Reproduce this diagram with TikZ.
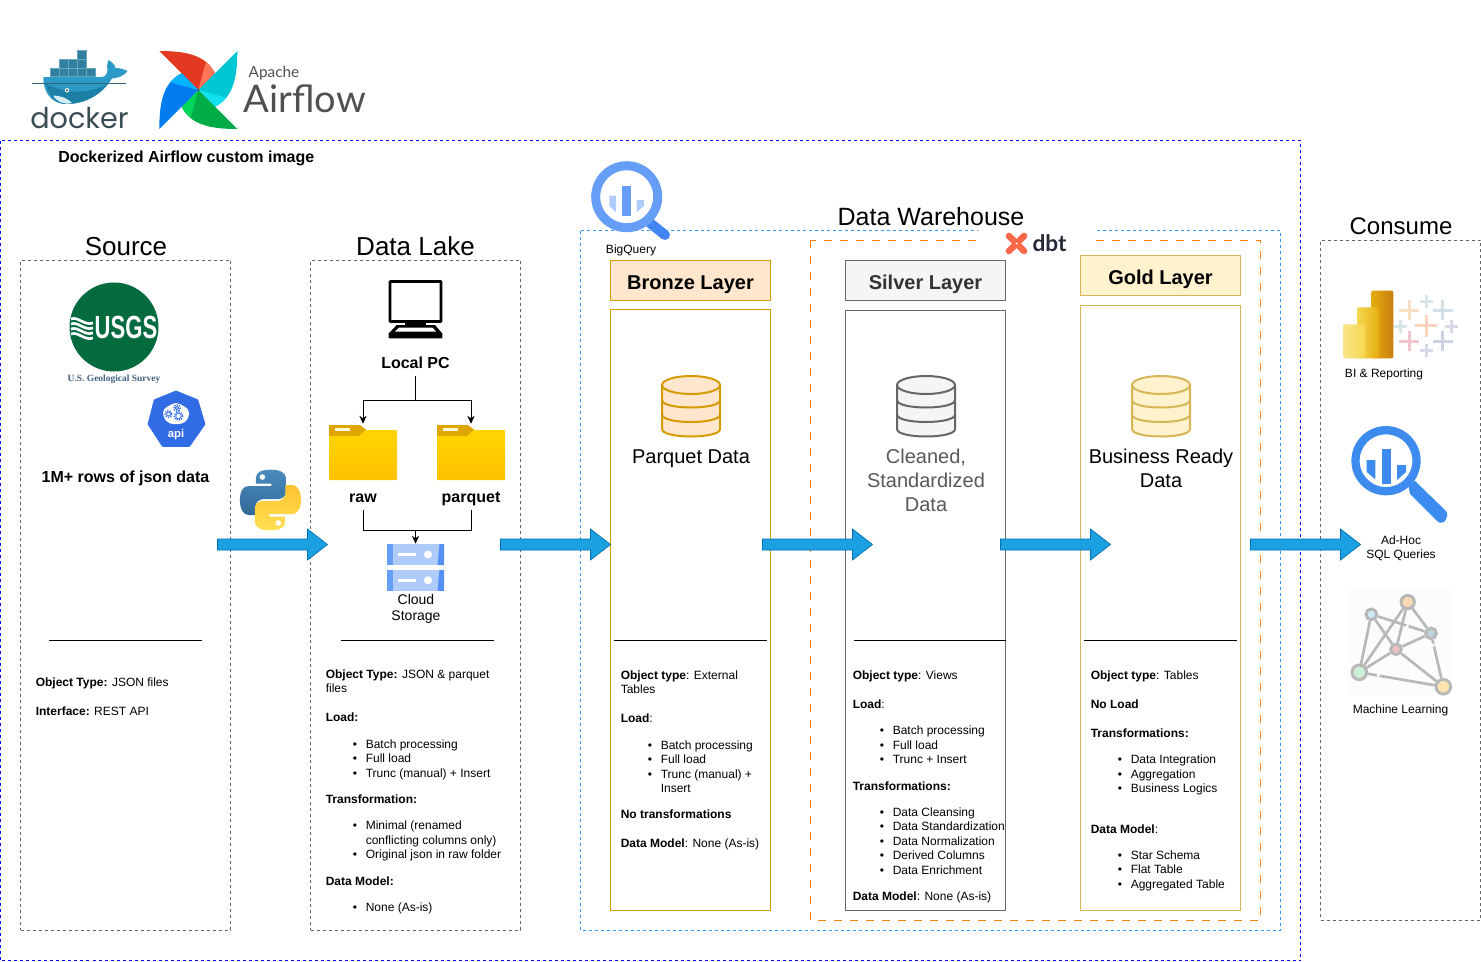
\documentclass[tikz,border=0pt]{standalone}
\usepackage{fontspec}
\setmainfont{Liberation Sans}
\newfontfamily\dockerfont{Poppins}
\newfontfamily\flowfont{Lato}
\newfontfamily\usgsfont{Liberation Serif}
\usetikzlibrary{arrows.meta,calc}

\definecolor{bluedash}{HTML}{0000FF}
\definecolor{skydash}{HTML}{3399FF}
\definecolor{orangedash}{HTML}{FF8000}
\definecolor{arrowfill}{HTML}{1BA1E2}
\definecolor{arrowedge}{HTML}{006EAF}
\definecolor{bronzefill}{HTML}{FFE6CC}
\definecolor{bronzeline}{HTML}{D79B00}
\definecolor{silverfill}{HTML}{F5F5F5}
\definecolor{silverline}{HTML}{666666}
\definecolor{goldfill}{HTML}{FFF2CC}
\definecolor{goldline}{HTML}{D6B656}
\definecolor{gbqlight}{HTML}{AECBFA}
\definecolor{gbqmid}{HTML}{669DF6}
\definecolor{gbqdark}{HTML}{4285F4}
\definecolor{gbqsolid}{HTML}{3D8BEF}
\definecolor{mlgray}{HTML}{B8B8B8}
\definecolor{whaleblue}{HTML}{2B9AC6}
\definecolor{whaledark}{HTML}{1B7FA6}
\definecolor{boxteal}{HTML}{2F7F9E}
\definecolor{dockerink}{HTML}{394D54}
\definecolor{flowink}{HTML}{51504F}
\definecolor{k8sblue}{HTML}{326CE5}
\definecolor{usgsgreen}{HTML}{046B3E}
\definecolor{usgsslate}{HTML}{3F5F80}
\definecolor{dbtorange}{HTML}{FF694A}
\definecolor{dbtink}{HTML}{262A38}
\definecolor{foldertop}{HTML}{FFD500}
\definecolor{folderbot}{HTML}{FFC200}
\definecolor{foldertab}{HTML}{DFA600}
\definecolor{pbione}{HTML}{F9E589}
\definecolor{pbitwo}{HTML}{F6D751}
\definecolor{pbithree}{HTML}{E6AD10}
\definecolor{pbifour}{HTML}{C87E0E}

\newcommand{\lgap}{\\[9pt]}
\newcommand{\pgap}{\\[10.95pt]}
\newcommand{\bul}{\hspace*{30pt}\llap{\textbullet\hspace{6.6pt}}}
\newcommand{\cnt}{\hspace*{30pt}}

\tikzset{
  panelbox/.style={draw=silverline, line width=.75pt, dash pattern=on 2.25pt off 2.25pt, inner sep=0},
  layerbox/.style={line width=.75pt, minimum width=120pt, inner sep=0},
  headtext/.style={inner sep=0, font=\fontsize{19.5}{21.6}\selectfont},
  layertitle/.style={text height=16pt, text depth=3pt, font=\bfseries\fontsize{15}{18}\selectfont},
  labeltext/.style={inner sep=0, align=center, font=\fontsize{15}{18}\selectfont},
  boldtext/.style={inner sep=0, text height=11.5pt, text depth=3pt, font=\bfseries\fontsize{12}{14.4}\selectfont},
  smalltext/.style={inner sep=0, align=center, font=\fontsize{9}{10.8}\selectfont},
  paneltext/.style={inner sep=0, anchor=north west, align=left, font=\fontsize{9}{10.8}\selectfont},
  sepline/.style={line width=.75pt},
  flowline/.style={line width=.75pt},
  flowarrow/.style={line width=.75pt, -{Stealth[length=6pt,width=5.5pt]}},
  blockarrow/.style={draw=arrowedge, fill=arrowfill, line width=.5pt,
    to path={($(\tikztostart)+(0,-5.5)$) -- ($(\tikztotarget)+(-20,-5.5)$) -- ($(\tikztotarget)+(-20,-15.5)$)
      -- (\tikztotarget) -- ($(\tikztotarget)+(-20,15.5)$) -- ($(\tikztotarget)+(-20,5.5)$)
      -- ($(\tikztostart)+(0,5.5)$) -- cycle}},
  mlnode/.style={circle, draw=mlgray, line width=2.2pt, inner sep=0},
  pics/dbstack/.style 2 args={code={
    \fill[#1] (-29,-21) -- (-29,23) .. controls (-29,33) and (29,33) .. (29,23) -- (29,-21) -- cycle;
    \draw[#2, line width=1.5pt, fill=#1] (0,-21) ellipse [x radius=29, y radius=9];
    \draw[#2, line width=1.5pt] (-29,-21) -- (-29,23) .. controls (-29,33) and (29,33) .. (29,23) -- (29,-21);
    \draw[#2, line width=1.5pt] (-29,-6) .. controls (-29,4) and (29,4) .. (29,-6);
    \draw[#2, line width=1.5pt] (-29,8.5) .. controls (-29,18.5) and (29,18.5) .. (29,8.5);
  }},
  pics/foldericon/.style={code={
    \shade[top color=foldertop, bottom color=folderbot, rounded corners=.5pt] (-34,-22) rectangle (34,28);
    \fill[foldertab] (-34,-27) -- (-3,-27) -- (3,-22.5) -- (-4,-16) -- (-34,-16) -- cycle;
    \fill[white!85!yellow] (-28,-24.5) rectangle (-13,-21.5);
  }},
  pics/storagebar/.style={code={
    \fill[gbqlight] (-28.5,-10.5) rectangle (28.5,10.5);
    \fill[gbqmid] (-28.5,-10.5) rectangle (-22.5,10.5);
    \fill[gbqdark!90!white] (22,10.5) -- (24,-10.5) -- (28.5,-10.5) -- (28.5,10.5) -- cycle;
    \fill[white] (-17.5,-1.5) rectangle (0,1.5);
    \fill[white] (12.5,0) circle [radius=4];
  }},
  pics/tabcross/.style 2 args={code={
    \fill[#2] (-#1,-1.5) rectangle (#1,1.5);
    \fill[#2] (-1.5,-#1) rectangle (1.5,#1);
  }},
}

\begin{document}
\begin{tikzpicture}[x=.75pt, y=-.75pt]
  \useasboundingbox (0,0) rectangle (1481,961);
  \fill[white] (0,0) rectangle (1481,961);

  % docker logo
  \foreach \bx/\by in {50/67.7,59/67.7,68/67.7,77/67.7,86/67.7,59/59,68/59,77/59,77/50.5}
    \fill[boxteal, draw=boxteal!70!white, line width=.3pt] (\bx,\by) rectangle ++(9,8.7);
  \fill[whaleblue] (43.3,77) -- (101,77) .. controls (106,77) and (107,74) .. (107.5,70)
    .. controls (107,66) and (107,63) .. (108.5,60) .. controls (112,62) and (115,65) .. (115.5,68)
    .. controls (119,68) and (124,69) .. (127.5,71) .. controls (124,76) and (118,78) .. (112,78.5)
    .. controls (104,92) and (88,104) .. (66,104) .. controls (50,104) and (43,90) .. (43.3,77) -- cycle;
  \fill[whaledark] (46,84) .. controls (70,96) and (92,92) .. (108,84) .. controls (98,96) and (84,104) .. (66,104)
    .. controls (55,104) and (48,94) .. (46,84) -- cycle;
  \fill[white!80!whaleblue] (53,95.5) .. controls (60,96) and (66,97) .. (72,103) .. controls (64,105) and (57,102) .. (53,95.5) -- cycle;
  \draw[dockerink!70!whaleblue, line width=.4pt] (32,83) -- (126,83);
  \fill[white] (67,90.3) circle [radius=2.2];
  \fill[dockerink] (67,90.3) circle [radius=1.1];
  \node [inner sep=0, text=dockerink, font=\dockerfont\fontsize{21.5}{24}\selectfont] (dockerword) at (79.5,118) {docker};

  % airflow logo
  \begin{scope}[shift={(198.3,90)}]
    \foreach \ang/\mainc/\lightc in {0/E43921/FF7557, -90/00C7D4/11E1EE, -180/00AD46/04D659, -270/017CEE/00B2FF} {
      \definecolor{blademain}{HTML}{\mainc}
      \definecolor{bladelight}{HTML}{\lightc}
      \fill[blademain, rotate=\ang] (-39,-39) .. controls (-10,-39) and (8,-34) .. (16.7,-16.7) -- (0,0) -- cycle;
      \fill[bladelight, rotate=\ang] (8,-28) .. controls (12,-24) and (15,-20) .. (16.7,-16.7) -- (0,0) .. controls (3,-10) and (5,-20) .. (8,-28) -- cycle;
    }
    \fill[black!70] (0,0) circle [radius=1.2];
  \end{scope}
  \node [inner sep=0, text=flowink, font=\flowfont\fontsize{11.5}{14}\selectfont] (apacheword) at (274,73) {Apache};
  \node [inner sep=0, text=flowink, font=\flowfont\fontsize{28.5}{32}\selectfont] (airflowword) at (305,98.5) {Airflow};

  % outer image box
  \draw[bluedash, line width=.75pt, dash pattern=on 2.25pt off 2.25pt] (0.5,140.5) rectangle (1300.5,960.5);
  \node [boldtext, anchor=west] (imagetitle) at (58,156.5) {Dockerized Airflow custom image};

  % panels
  \node [panelbox, minimum width=157.5pt, minimum height=502.5pt] (sourcebox) at (125.5,595.4) {};
  \node [panelbox, minimum width=157.5pt, minimum height=502.5pt] (lakebox) at (415.5,595.4) {};
  \node [panelbox, minimum width=120pt, minimum height=510pt] (consumebox) at (1400.5,580.4) {};
  \draw[skydash, line width=.75pt, dash pattern=on 2.25pt off 2.25pt] (580.5,230.8) rectangle (1280.5,930.5);
  \draw[orangedash, line width=.75pt, dash pattern=on 6pt off 6pt] (810.5,240) rectangle (1260.5,920.5);
  \fill[white] (978,226) rectangle (1096,258);

  \node [headtext] (sourcehead) at (126,246.5) {Source};
  \node [headtext] (lakehead) at (415.5,246) {Data Lake};
  \node [headtext, font=\fontsize{18.75}{21.6}\selectfont] (warehousehead) at (931,217) {Data Warehouse};
  \node [headtext, font=\fontsize{18}{21.6}\selectfont] (consumehead) at (1401,226) {Consume};

  % layers
  \node [layerbox, layertitle, draw=bronzeline, fill=bronzefill, minimum height=30pt] (bronzehead) at (690.5,280.5) {Bronze Layer};
  \node [layerbox, draw=bronzeline, minimum height=450.75pt] (bronzebody) at (690.5,610.2) {};
  \node [layerbox, layertitle, draw=silverline, fill=silverfill, text=black!80, minimum height=30pt] (silverhead) at (925.5,280.5) {Silver Layer};
  \node [layerbox, draw=silverline, minimum height=450pt] (silverbody) at (925.5,610.5) {};
  \node [layerbox, layertitle, draw=goldline, fill=goldfill, minimum height=30pt] (goldhead) at (1160.5,275.5) {Gold Layer};
  \node [layerbox, draw=goldline, minimum height=453.75pt] (goldbody) at (1160.5,608) {};

  \pic at (691,406) {dbstack={bronzefill}{bronzeline}};
  \pic at (926,406) {dbstack={silverfill}{silverline}};
  \pic at (1161,406) {dbstack={goldfill}{goldline}};
  \node [labeltext] (bronzelabel) at (691,459) {Parquet Data};
  \node [labeltext, anchor=north, text=black!65] (silverlabel) at (926,448.5) {Cleaned,\\Standardized\\Data};
  \node [labeltext, anchor=north] (goldlabel) at (1161,448.5) {Business Ready\\Data};

  \foreach \xa/\xb in {49/202,341/494,614/767,854/1006,1084/1237}
    \draw[sepline] (\xa,640.5) -- (\xb,640.5);

  % source
  \fill[usgsgreen] (114,327) circle [radius=44.5];
  \foreach \wob in {0,5,10,15}
    \draw[white, line width=2pt] (71,319+\wob) .. controls (78,316+\wob) and (84,326+\wob) .. (93,323+\wob);
  \node [inner sep=0, text=white, font=\bfseries\fontsize{24}{26}\selectfont, xscale=.69] (usgsword) at (126,327) {USGS};
  \node [inner sep=0, text=usgsslate, font=\usgsfont\bfseries\fontsize{7.1}{8}\selectfont] (usgscaption) at (114,379.5) {U.S. Geological Survey};

  \fill[k8sblue, draw=k8sblue, line width=2pt, line join=round] (176,392) -- (197,400.5) -- (204,424) -- (189,445.5) -- (163,445.5) -- (149,424) -- (155,400.5) -- cycle;
  \fill[white, rounded corners=3pt] (176,402) -- (189,409) -- (189,418) -- (183,424) -- (169,424) -- (163,417) -- (163,409) -- cycle;
  \foreach \gx/\gy/\gr in {168.5/414/2, 177/408/1.8, 178.5/416/2.8} {
    \draw[k8sblue, line width=.6pt] (\gx,\gy) circle [radius=\gr];
    \draw[k8sblue, line width=1pt, dash pattern=on .9pt off .9pt] (\gx,\gy) circle [radius=\gr+1.4];
  }
  \node [inner sep=0, text=white, font=\bfseries\fontsize{8.5}{10}\selectfont] (apiword) at (176,435) {api};
  \node [boldtext] (jsonlabel) at (125.5,476.5) {1M+ rows of json data};

  % python logo
  \begin{scope}[shift={(270.4,500)}]
    \foreach \rot/\topc/\botc in {0/4B8BBE/306998, 180/FFC331/FFE052} {
      \definecolor{snaketop}{HTML}{\topc}
      \definecolor{snakebot}{HTML}{\botc}
      \shade[top color=snaketop, bottom color=snakebot, rotate=\rot] (1,-30.3) .. controls (-9,-30.3) and (-14.5,-28) .. (-14.5,-22)
        -- (-14.5,-16.5) -- (1,-16.5) -- (1,-14) -- (-22,-14) .. controls (-27,-14) and (-30.5,-9) .. (-30.5,0)
        .. controls (-30.5,9) and (-27,15) .. (-22,15) -- (-15,15) -- (-15,7) .. controls (-15,2) and (-11,-1) .. (-6,-1)
        -- (8,-1) .. controls (12,-1) and (15.5,-4) .. (15.5,-8) -- (15.5,-22) .. controls (15.5,-27) and (10,-30.3) .. (1,-30.3) -- cycle;
      \fill[white, rotate=\rot] (-8,-23) circle [radius=2.8];
    }
  \end{scope}

  % data lake
  \fill[black] (405,322) rectangle (426,327);
  \draw[black, line width=2.2pt, fill=white, rounded corners=.5pt] (390,281.5) rectangle (441,321.5);
  \fill[black] (396.7,325) -- (435,325) -- (442.3,333.5) -- (388.7,333.5) -- cycle;
  \fill[white] (399,327.5) -- (432.5,327.5) -- (436,331.5) -- (395,331.5) -- cycle;
  \fill[black, rounded corners=.5pt] (388.7,333) rectangle (442.3,338.3);

  \node [boldtext, minimum height=20pt] (localpc) at (415.5,362.5) {Local PC};
  \node [inner sep=0, minimum width=51pt, minimum height=42pt] (rawfolder) at (363,452) {};
  \node [inner sep=0, minimum width=51pt, minimum height=42pt] (parquetfolder) at (471,452) {};
  \pic at (rawfolder) {foldericon};
  \pic at (parquetfolder) {foldericon};
  \node [boldtext, minimum height=20pt] (rawlabel) at (363,496.8) {raw};
  \node [boldtext, minimum height=20pt] (parquetlabel) at (471,496.8) {parquet};
  \node [inner sep=0, minimum width=42.75pt, minimum height=35pt] (storage) at (415.5,567.3) {};
  \pic at (415.5,554.5) {storagebar};
  \pic at (415.5,580.3) {storagebar};
  \node [inner sep=0, align=center, font=\fontsize{10.5}{12}\selectfont] (storagelabel) at (416,609) {Cloud\\Storage};

  \coordinate (lakesplit) at (415.5,400.5);
  \coordinate (lakejoin) at (415.5,530.5);
  \draw[flowline] (localpc.south) -- (lakesplit);
  \draw[flowarrow] (lakesplit) -| (rawfolder.north);
  \draw[flowarrow] (lakesplit) -| (parquetfolder.north);
  \draw[flowline] (rawlabel.south) |- (lakejoin);
  \draw[flowline] (parquetlabel.south) |- (lakejoin);
  \draw[flowarrow] (lakejoin) -- (storage.north);

  % bigquery
  \draw[gbqdark, line width=7.5pt, line cap=round] (650,223) -- (665,235);
  \fill[white] (626.7,196.7) circle [radius=31];
  \draw[gbqmid, line width=6.75pt] (626.7,196.7) circle [radius=31];
  \fill[gbqmid] (622.3,186) rectangle (630.7,216);
  \fill[gbqlight] (609.3,195.7) -- (616,195.7) -- (616,212) -- (609.3,206) -- cycle;
  \fill[gbqlight] (636.7,200) -- (644,200) -- (644,206) -- (636.7,212) -- cycle;
  \node [smalltext] (bqlabel) at (631,250.5) {BigQuery};

  % dbt logo
  \draw[dbtorange, line width=5pt, line cap=round] (1009,236) -- (1024,251);
  \draw[dbtorange, line width=5pt, line cap=round] (1024,236) -- (1009,251);
  \fill[white] (1016.5,243.5) circle [radius=1];
  \node [inner sep=0, text=dbtink, font=\flowfont\bfseries\fontsize{17}{20}\selectfont] (dbtword) at (1049.5,243.5) {dbt};

  % consume
  \foreach \cx/\cy/\cs/\cc in {1426/325.7/11/F9D5BE, 1409.3/310/10/F9DFC8, 1426.7/301/6.5/D5E5EA, 1442.7/310/10/D2E1E7,
      1400/326/6.5/D5E5EA, 1451.7/326/6.5/D9DAE8, 1409.3/341/10/F2C7CD, 1442.7/341/10/C9D3E2, 1426/350.7/6.5/D6DAE8} {
    \definecolor{crossc}{HTML}{\cc}
    \pic at (\cx,\cy) {tabcross={\cs}{crossc}};
  }
  \shade[left color=pbithree, right color=pbifour, rounded corners=1pt] (1371,290.7) rectangle (1393.3,358.3);
  \shade[left color=pbitwo, right color=pbithree, rounded corners=1pt] (1357,307.3) rectangle (1379.3,358.3);
  \shade[left color=pbione, right color=pbitwo, rounded corners=1pt] (1343,324.3) rectangle (1365.3,358.3);
  \node [smalltext] (bilabel) at (1384,374) {BI \& Reporting};

  \fill[gbqsolid] (1408,484) -- (1415,481) -- (1446,511) .. controls (1450,516) and (1444,527) .. (1437,521) -- (1410,494) -- cycle;
  \fill[white] (1386,460.7) circle [radius=30];
  \draw[gbqsolid, line width=6.2pt] (1386,460.7) circle [radius=30.5];
  \fill[gbqsolid] (1381.7,449) rectangle (1390.7,484);
  \fill[gbqsolid] (1366.7,460) -- (1375.3,460) -- (1375.3,479.3) -- (1366.7,472) -- cycle;
  \fill[gbqsolid] (1397,465) -- (1406,465) -- (1406,472) -- (1397,480) -- cycle;
  \node [smalltext] (adhoclabel) at (1401,548.5) {Ad-Hoc\\SQL Queries};

  \fill[black!1] (1347.7,590) rectangle (1452.3,695);
  \definecolor{nodeA}{HTML}{F9D9B5}
  \definecolor{nodeB}{HTML}{CDEBF6}
  \definecolor{nodeC}{HTML}{BDD5E0}
  \definecolor{nodeD}{HTML}{F2C0C0}
  \definecolor{nodeE}{HTML}{CDEFD8}
  \definecolor{nodeF}{HTML}{FDE3B0}
  \node [mlnode, fill=nodeA, minimum size=10pt] (mla) at (1407.7,602) {};
  \node [mlnode, fill=nodeB, minimum size=8pt] (mlb) at (1371.3,614.3) {};
  \node [mlnode, fill=nodeC, minimum size=8pt] (mlc) at (1431,633.3) {};
  \node [mlnode, fill=nodeD, minimum size=8pt] (mld) at (1396,649.3) {};
  \node [mlnode, fill=nodeE, minimum size=11pt] (mle) at (1359.3,672.3) {};
  \node [mlnode, fill=nodeF, minimum size=11pt] (mlf) at (1443.3,686.7) {};
  \foreach \na/\nb in {mlb/mle,mlb/mld,mlb/mlc,mla/mle,mla/mld,mla/mlc,mld/mlc,mld/mle,mld/mlf,mlc/mlf,mle/mlf}
    \draw[mlgray, line width=2pt] (\na) -- (\nb);
  % breaks in the thin lines
  \foreach \gapx/\gapy in {1407.3/626, 1433.3/645, 1378.3/675.3}
    \fill[white] (\gapx,\gapy) circle [radius=1.8];
  \node [smalltext] (mllabel) at (1400.5,710.5) {Machine Learning};

  % panel notes
  \node [paneltext] (sourcenotes) at (35.5,678) {\textbf{Object Type:} JSON files\pgap \textbf{Interface:} REST API};
  \node [paneltext] (lakenotes) at (325.5,669.5) {\textbf{Object Type:} JSON \& parquet\\files\pgap
    \textbf{Load:}\lgap \bul Batch processing\\\bul Full load\\\bul Trunc (manual) + Insert\lgap
    \textbf{Transformation:}\lgap \bul Minimal (renamed\\\cnt conflicting columns only)\\\bul Original json in raw folder\lgap
    \textbf{Data Model:}\lgap \bul None (As-is)};
  \node [paneltext] (bronzenotes) at (620.5,670.5) {\textbf{Object type}: External\\Tables\pgap
    \textbf{Load}:\lgap \bul Batch processing\\\bul Full load\\\bul Trunc (manual) +\\\cnt Insert\lgap
    \textbf{No transformations}\pgap \textbf{Data Model}: None (As-is)};
  \node [paneltext] (silvernotes) at (852.5,670.5) {\textbf{Object type}: Views\pgap
    \textbf{Load}:\lgap \bul Batch processing\\\bul Full load\\\bul Trunc + Insert\lgap
    \textbf{Transformations:}\lgap \bul Data Cleansing\\\bul Data Standardization\\\bul Data Normalization\\\bul Derived Columns\\\bul Data Enrichment\lgap
    \textbf{Data Model}: None (As-is)};
  \node [paneltext] (goldnotes) at (1090.5,670.5) {\textbf{Object type}: Tables\pgap
    \textbf{No Load}\pgap \textbf{Transformations:}\lgap \bul Data Integration\\\bul Aggregation\\\bul Business Logics\\[19.5pt]
    \textbf{Data Model}:\lgap \bul Star Schema\\\bul Flat Table\\\bul Aggregated Table};

  % block arrows
  \coordinate (srcout) at (217.5,544.5);
  \coordinate (lakein) at (327.5,544.5);
  \coordinate (lakeout) at (500.5,544.5);
  \coordinate (bronzein) at (610.5,544.5);
  \coordinate (bronzeout) at (762.5,544.5);
  \coordinate (silverin) at (872.5,544.5);
  \coordinate (silverout) at (1000.5,544.5);
  \coordinate (goldin) at (1110.5,544.5);
  \coordinate (goldout) at (1250.5,544.5);
  \coordinate (consumein) at (1360.5,544.5);
  \foreach \from/\to in {srcout/lakein,lakeout/bronzein,bronzeout/silverin,silverout/goldin,goldout/consumein}
    \draw[blockarrow] (\from) to (\to);
\end{tikzpicture}
\end{document}
